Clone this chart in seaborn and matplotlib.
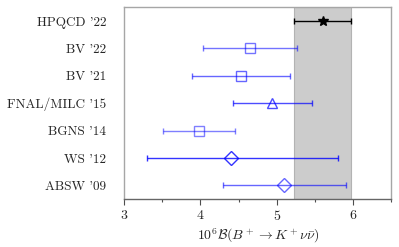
import matplotlib
matplotlib.use("Agg")
import matplotlib.pyplot as plt
import seaborn as sns

sns.set_theme(style="white")
plt.rcParams['font.family'] = ['cmr10', 'DejaVu Serif']
plt.rcParams['mathtext.fontset'] = 'cm'
plt.rcParams['axes.formatter.use_mathtext'] = True

# results, top to bottom
labels = ["HPQCD '22", "BV '22", "BV '21", "FNAL/MILC '15", "BGNS '14", "WS '12", "ABSW '09"]
values = [5.60, 4.65, 4.53, 4.94, 3.98, 4.40, 5.10]
err_lo = [0.37, 0.62, 0.64, 0.52, 0.47, 1.10, 0.80]
err_hi = [0.37, 0.62, 0.64, 0.52, 0.47, 1.40, 0.80]
markers = ["*", "s", "s", "^", "s", "D", "D"]
colors = ["black", "blue", "blue", "blue", "blue", "blue", "blue"]
alphas = [1.0, 0.55, 0.6, 0.7, 0.5, 0.8, 0.6]
msizes = [7.5, 7, 7, 7.5, 7, 7.5, 7]

band_lo = values[0] - err_lo[0]
band_hi = values[0] + err_hi[0]

fig = plt.figure(figsize=(3.99, 2.47), dpi=100)
ax = fig.add_axes([0.311, 0.194, 0.67, 0.776])

ax.axvspan(band_lo, band_hi, color="0.8", ec="0.7", lw=0.8, zorder=0)

ypos = list(range(len(labels)))
for i, lab in enumerate(labels):
    ax.errorbar(values[i], ypos[i], xerr=[[err_lo[i]], [err_hi[i]]],
                fmt=markers[i], color=colors[i], alpha=alphas[i],
                mfc=colors[i] if markers[i] == "*" else "none",
                mec=colors[i], ms=msizes[i], mew=1.0,
                elinewidth=1.0, capsize=2.5, capthick=1.0, zorder=3)

ax.set_yticks(ypos)
ax.set_yticklabels(labels, fontsize=9.5)
ax.set_ylim(len(labels) - 0.5, -0.5)
ax.set_xlim(3, 6.5)
ax.set_xticks([3, 4, 5, 6])
ax.set_xticks([3.5, 4.5, 5.5, 6.5], minor=True)
ax.tick_params(axis="x", which="both", bottom=True, direction="out", length=4,
               width=0.8, color="0.3", labelsize=10, pad=3)
ax.tick_params(axis="x", which="minor", length=2.5)
ax.tick_params(axis="y", left=False, pad=7)
ax.set_xlabel(r"$10^6\mathcal{B}(B^+\to K^+\nu\bar{\nu})$", fontsize=10, labelpad=3)

for s in ax.spines.values():
    s.set_color("0.65")
    s.set_linewidth(1.0)
ax.spines["bottom"].set_color("0.4")

fig.savefig("out.png", dpi=100)
